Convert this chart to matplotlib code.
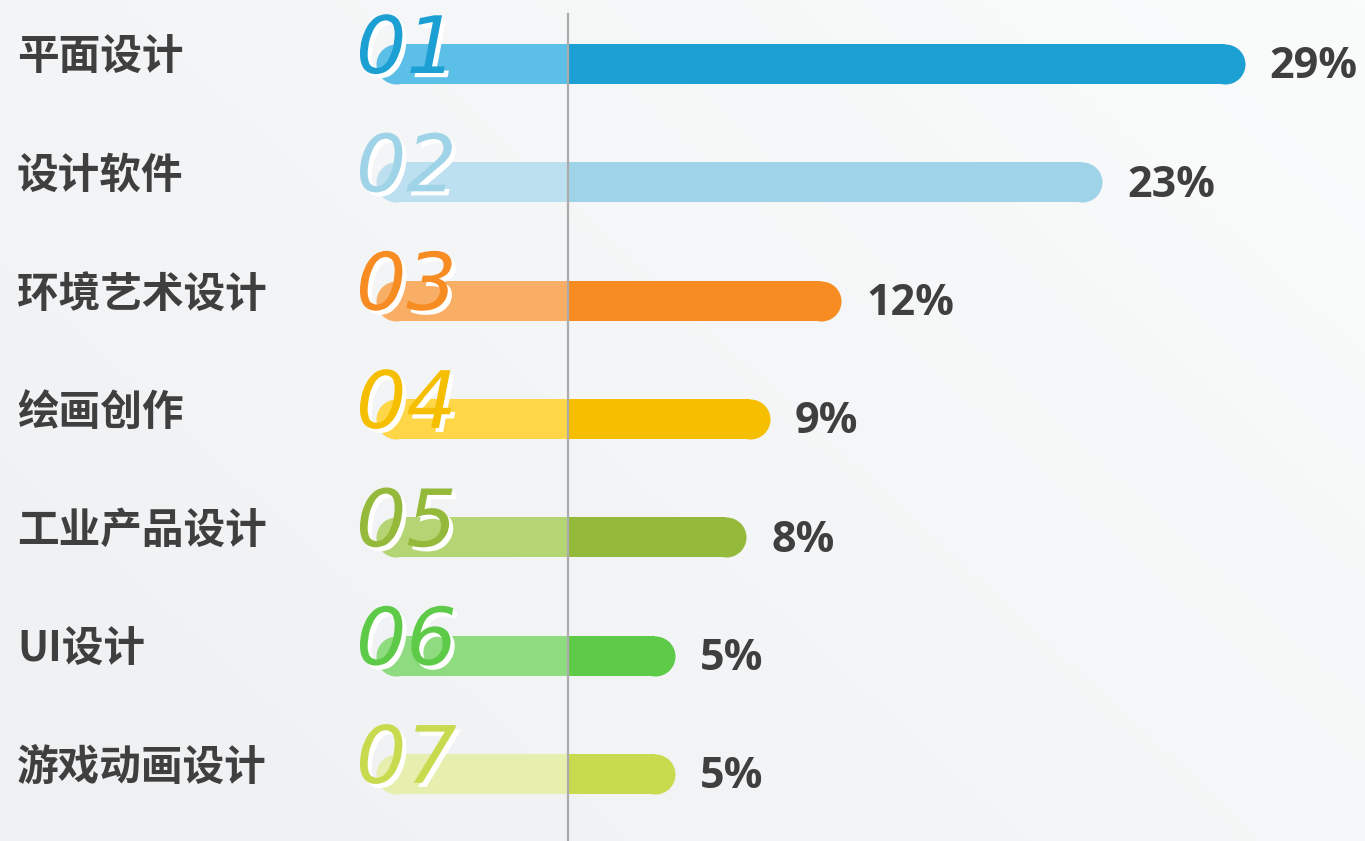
import numpy as np
import matplotlib.pyplot as plt
import matplotlib.patheffects as pe

plt.rcParams['font.family'] = ['Noto Sans CJK SC', 'DejaVu Sans']

categories = ["平面设计", "设计软件", "环境艺术设计", "绘画创作", "工业产品设计", "UI设计", "游戏动画设计"]
values = [29, 23, 12, 9, 8, 5, 5]
value_labels = ["29%", "23%", "12%", "9%", "8%", "5%", "5%"]
dark_colors = ["#1c9fd3", "#9fd3e7", "#f78c23", "#f5bf00", "#95b93a", "#5ecb48", "#c8da4e"]
light_colors = ["#5bbfe8", "#bce0ef", "#f9ae66", "#fed647", "#b5d574", "#8fdb80", "#e6efae"]

W, H = 1365, 841
S = 23.75          # px per percent
X0 = 556           # px of value 0
ROW0, ROWSTEP = 64, 118.3

def px(x):
    return (x - X0) / S

fig = plt.figure(figsize=(W / 100, H / 100), dpi=100)
ax = fig.add_axes([0, 0, 1, 1])
ax.set_xlim(px(0), px(W))
ax.set_ylim((H - ROW0) / ROWSTEP, -ROW0 / ROWSTEP)
ax.axis("off")

# background gradient
gx, gy = np.meshgrid(np.linspace(0, 1, 200), np.linspace(0, 1, 200))
grad = 0.6 * gx + 0.4 * gy
bg = plt.cm.colors.LinearSegmentedColormap.from_list("bg", ["#eef0f2", "#fafbfb"])
ax.imshow(grad, cmap=bg, extent=[0, 1, 0, 1], transform=ax.transAxes,
          aspect="auto", zorder=0, origin="lower")

bar_h = 40 / ROWSTEP
r = 20 / S
cap_s = (40 * 0.72) ** 2
start = px(568)
left = px(376)

for i, (cat, v) in enumerate(zip(categories, values)):
    # light left part
    ax.barh(i, start - (left + r), left=left + r, height=bar_h, color=light_colors[i], zorder=2)
    ax.scatter([left + r], [i], s=cap_s, color=light_colors[i], linewidths=0, zorder=2)
    # dark value part
    ax.barh(i, v - r - start, left=start, height=bar_h, color=dark_colors[i], zorder=3)
    ax.scatter([v - r], [i], s=cap_s, color=dark_colors[i], linewidths=0, zorder=3)

    # big number
    ax.text(px(356), i + 9 / ROWSTEP, f"{i + 1:02d}", fontsize=57, fontstyle="italic",
            family=["DejaVu Sans"], color=dark_colors[i],
            ha="left", va="baseline", zorder=4,
            path_effects=[pe.SimplePatchShadow(offset=(3, -3), shadow_rgbFace="white", alpha=1),
                          pe.Normal()])

    # category label
    ax.text(px(17), i - 6 / ROWSTEP, cat, fontsize=30, fontweight="bold",
            color="#3f3f3f", ha="left", va="center", zorder=4)

    # value label
    ax.text(v + 25 / S, i + 3 / ROWSTEP, value_labels[i], fontsize=31, fontweight="bold",
            family=["Open Sans", "DejaVu Sans"], color="#3f3f3f",
            ha="left", va="center", zorder=4)

# vertical divider
ax.plot([start, start], [(14 - ROW0) / ROWSTEP, (H - ROW0) / ROWSTEP],
        color="#ababab", lw=1.6, zorder=5)

fig.savefig("out.png", dpi=100)
